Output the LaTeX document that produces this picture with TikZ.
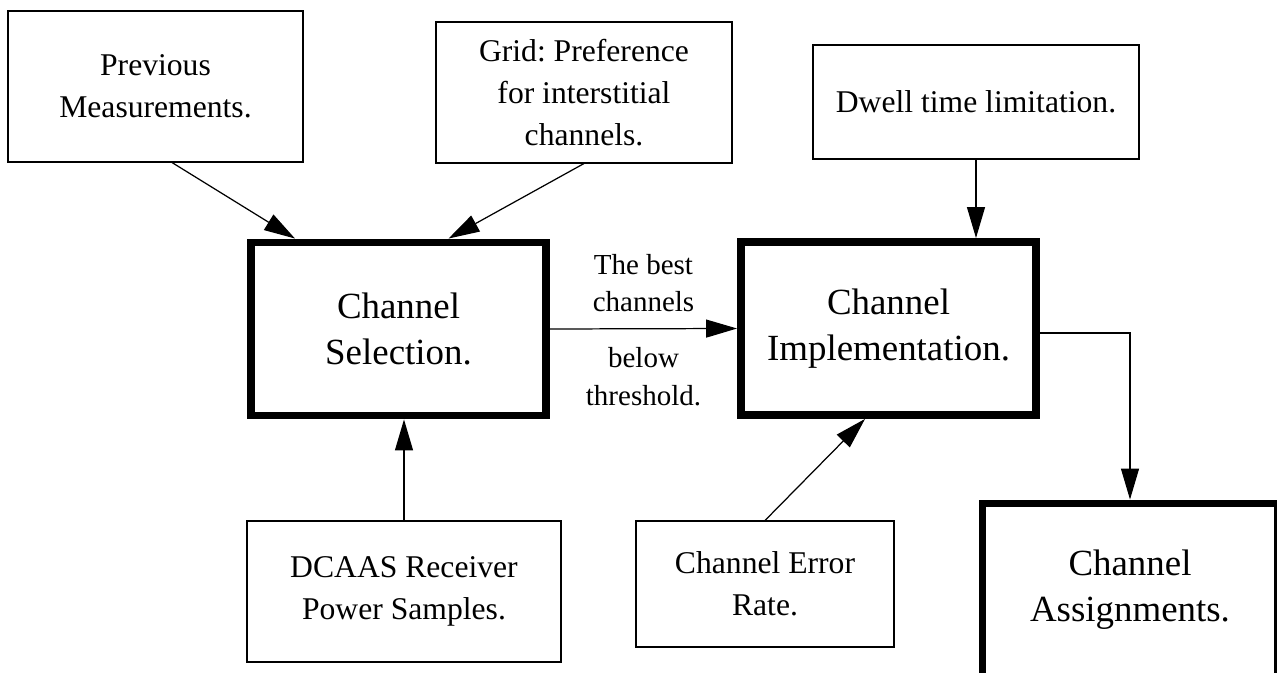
\documentclass[tikz,border=0pt]{standalone}
\usepackage{fontspec}
\setmainfont{Liberation Serif}
\frenchspacing
\usetikzlibrary{arrows.meta, positioning, calc}

\tikzset{
  inbox/.style={draw, line width=0.6pt, align=center, font=\fontsize{18}{23.8}\selectfont},
  mainbox/.style={draw, line width=4.5pt, minimum width=5.9cm, minimum height=3.46cm, align=center, font=\fontsize{21}{26}\selectfont},
  flow/.style={-{Triangle[length=0.62cm,width=0.36cm]}, line width=0.7pt},
  flowlabel/.style={align=center, font=\fontsize{16.5}{21.6}\selectfont},
}

\begin{document}
\begin{tikzpicture}
    \useasboundingbox (0,0) rectangle (25.54,-13.46);
    % the three stages
    \node[mainbox] (sel) at (7.97,-6.58) {Channel\\Selection.};
    \node[mainbox] (impl) at (17.77,-6.57) {Channel\\Implementation.};
    \node[mainbox] (assign) at (22.6,-11.8) {Channel\\Assignments.};
    % inputs
    \node[inbox, minimum width=5.9cm, minimum height=3.02cm] (prev) at (3.11,-1.73) {Previous\\Measurements.};
    \node[inbox, minimum width=5.92cm, minimum height=2.82cm] (grid) at (11.68,-1.85) {Grid: Preference\\for interstitial\\channels.};
    \node[inbox, minimum width=6.52cm, minimum height=2.28cm] (dwell) at (19.52,-2.04) {Dwell time limitation.};
    \node[inbox, minimum width=6.28cm, minimum height=2.82cm] (dcaas) at (8.08,-11.83) {DCAAS Receiver\\Power Samples.};
    \node[inbox, minimum width=5.16cm, minimum height=2.52cm] (err) at (15.3,-11.68) {Channel Error\\Rate.};

    \draw[flow] ($(prev.south)+(0.33,0)$) -- ($(sel.north)+(-2.07,0)$);
    \draw[flow] (grid.south) -- ($(sel.north)+(1.0,0)$);
    \draw[flow] (dcaas.north) -- (dcaas.north |- sel.south);
    \draw[flow] (dwell.south) -- (dwell.south |- impl.north);
    \draw[flow] (err.north) -- ($(impl.south)+(-0.47,0)$);
    \draw[flow] (sel.east) -- (impl.west)
        node[flowlabel, midway, above=0.2cm] {The best\\channels}
        node[flowlabel, midway, below=0.25cm] {below\\threshold.};
    \draw[flow] ($(impl.east)+(0,-0.09)$) -| (assign.north);
\end{tikzpicture}
\end{document}
